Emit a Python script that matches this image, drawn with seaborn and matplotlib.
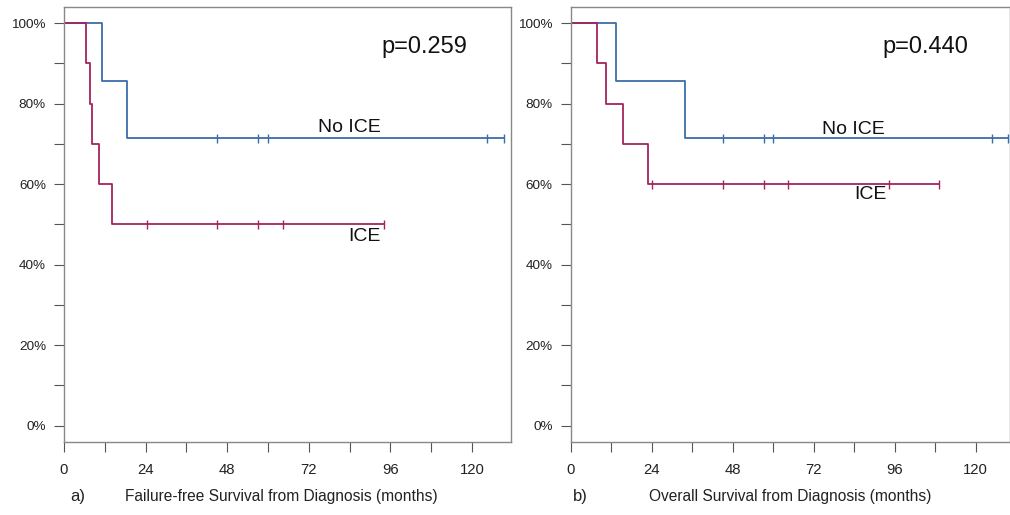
import numpy as np
import pandas as pd
import matplotlib
matplotlib.use('Agg')
import matplotlib.pyplot as plt
import seaborn as sns
from matplotlib.ticker import MultipleLocator, FuncFormatter

sns.set_style('white')
plt.rcParams['font.family'] = ['Liberation Sans', 'DejaVu Sans']

# values (months, percent surviving)
# a) failure-free survival
ffs_noice_t = [0, 11.1, 18.5, 129.5]
ffs_noice_s = [100, 85.7, 71.4, 71.4]
ffs_noice_cens = [45, 57, 60, 124.5, 129.5]
ffs_ice_t = [0, 6.6, 7.6, 8.3, 10.4, 14.1, 94.1]
ffs_ice_s = [100, 90, 80, 70, 60, 50, 50]
ffs_ice_cens = [24.4, 45, 57, 64.3, 94.1]

# b) overall survival
os_noice_t = [0, 13.4, 33.9, 129.7]
os_noice_s = [100, 85.7, 71.4, 71.4]
os_noice_cens = [45.2, 57.2, 60.1, 124.9, 129.7]
os_ice_t = [0, 7.8, 10.6, 15.4, 23.0, 109.1]
os_ice_s = [100, 90, 80, 70, 60, 60]
os_ice_cens = [24.2, 45.2, 57.2, 64.5, 94.3, 109.1]

p_values = ['p=0.259', 'p=0.440']
panel_tags = ['a)', 'b)']
xlabels = ['Failure-free Survival from Diagnosis (months)',
           'Overall Survival from Diagnosis (months)']

blue = '#3b6ea8'
red = '#a2245c'


def curve_df(t, s, group):
    return pd.DataFrame({'month': t, 'surv': s, 'group': group})


def censor_df(t, s, cens, group):
    # survival level at each censor time (step function, post)
    idx = np.searchsorted(t, cens, side='right') - 1
    return pd.DataFrame({'month': cens, 'surv': np.array(s)[idx], 'group': group})


fig = plt.figure(figsize=(10.1, 5.15), dpi=100)
ax1 = fig.add_axes([0.0634, 0.1423, 0.4426, 0.8441])
ax2 = fig.add_axes([0.5650, 0.1423, 0.4350, 0.8441])

panels = [
    (ax1, ffs_noice_t, ffs_noice_s, ffs_noice_cens, ffs_ice_t, ffs_ice_s, ffs_ice_cens, 131.5,
     [(84, 74, 'No ICE'), (88.5, 47, 'ICE')], (106, 94)),
    (ax2, os_noice_t, os_noice_s, os_noice_cens, os_ice_t, os_ice_s, os_ice_cens, 130.2,
     [(83.7, 73.6, 'No ICE'), (88.7, 57.3, 'ICE')], (105, 94)),
]

for i, (ax, nt, ns, nc, it, is_, ic, xmax, labels, ppos) in enumerate(panels):
    lines = pd.concat([curve_df(nt, ns, 'No ICE'), curve_df(it, is_, 'ICE')])
    cens = pd.concat([censor_df(nt, ns, nc, 'No ICE'), censor_df(it, is_, ic, 'ICE')])
    pal = {'No ICE': blue, 'ICE': red}

    sns.lineplot(data=lines, x='month', y='surv', hue='group', palette=pal,
                 drawstyle='steps-post', estimator=None, linewidth=1.3,
                 legend=False, ax=ax)
    sns.scatterplot(data=cens, x='month', y='surv', hue='group', palette=pal,
                    marker='|', s=40, linewidth=1.0, legend=False, ax=ax, zorder=3)

    ax.set_xlim(0, xmax)
    ax.set_ylim(-4, 104)
    ax.xaxis.set_major_locator(MultipleLocator(24))
    ax.xaxis.set_minor_locator(MultipleLocator(12))
    ax.yaxis.set_major_locator(MultipleLocator(20))
    ax.yaxis.set_minor_locator(MultipleLocator(10))
    ax.yaxis.set_major_formatter(FuncFormatter(lambda v, pos: '%d%%' % v))
    ax.tick_params(axis='both', which='both', direction='out', length=7,
                   width=0.8, color='#555555', labelcolor='#222222')
    ax.tick_params(axis='y', pad=6, labelsize=9.7)
    ax.tick_params(axis='x', pad=8, labelsize=10.7)
    ax.tick_params(axis='both', which='minor', left=True, bottom=True)
    ax.tick_params(axis='both', which='major', left=True, bottom=True)
    for sp in ax.spines.values():
        sp.set_color('#888888')
        sp.set_linewidth(1.0)
    ax.set_xlabel('')
    ax.set_ylabel('')

    for x, y, txt in labels:
        ax.text(x, y, txt, fontsize=14, ha='center', va='center', color='#111111')
    ax.text(ppos[0], ppos[1], p_values[i], fontsize=17, ha='center', va='center',
            color='#111111')

    ax.text(0.013 if i == 0 else 0.005, -0.1265, panel_tags[i], transform=ax.transAxes,
            fontsize=12, ha='left', va='center', color='#222222')
    ax.text(0.485 if i == 0 else 0.5, -0.1265, xlabels[i], transform=ax.transAxes,
            fontsize=11.2, ha='center', va='center', color='#222222')

fig.savefig('out.png', dpi=100)
